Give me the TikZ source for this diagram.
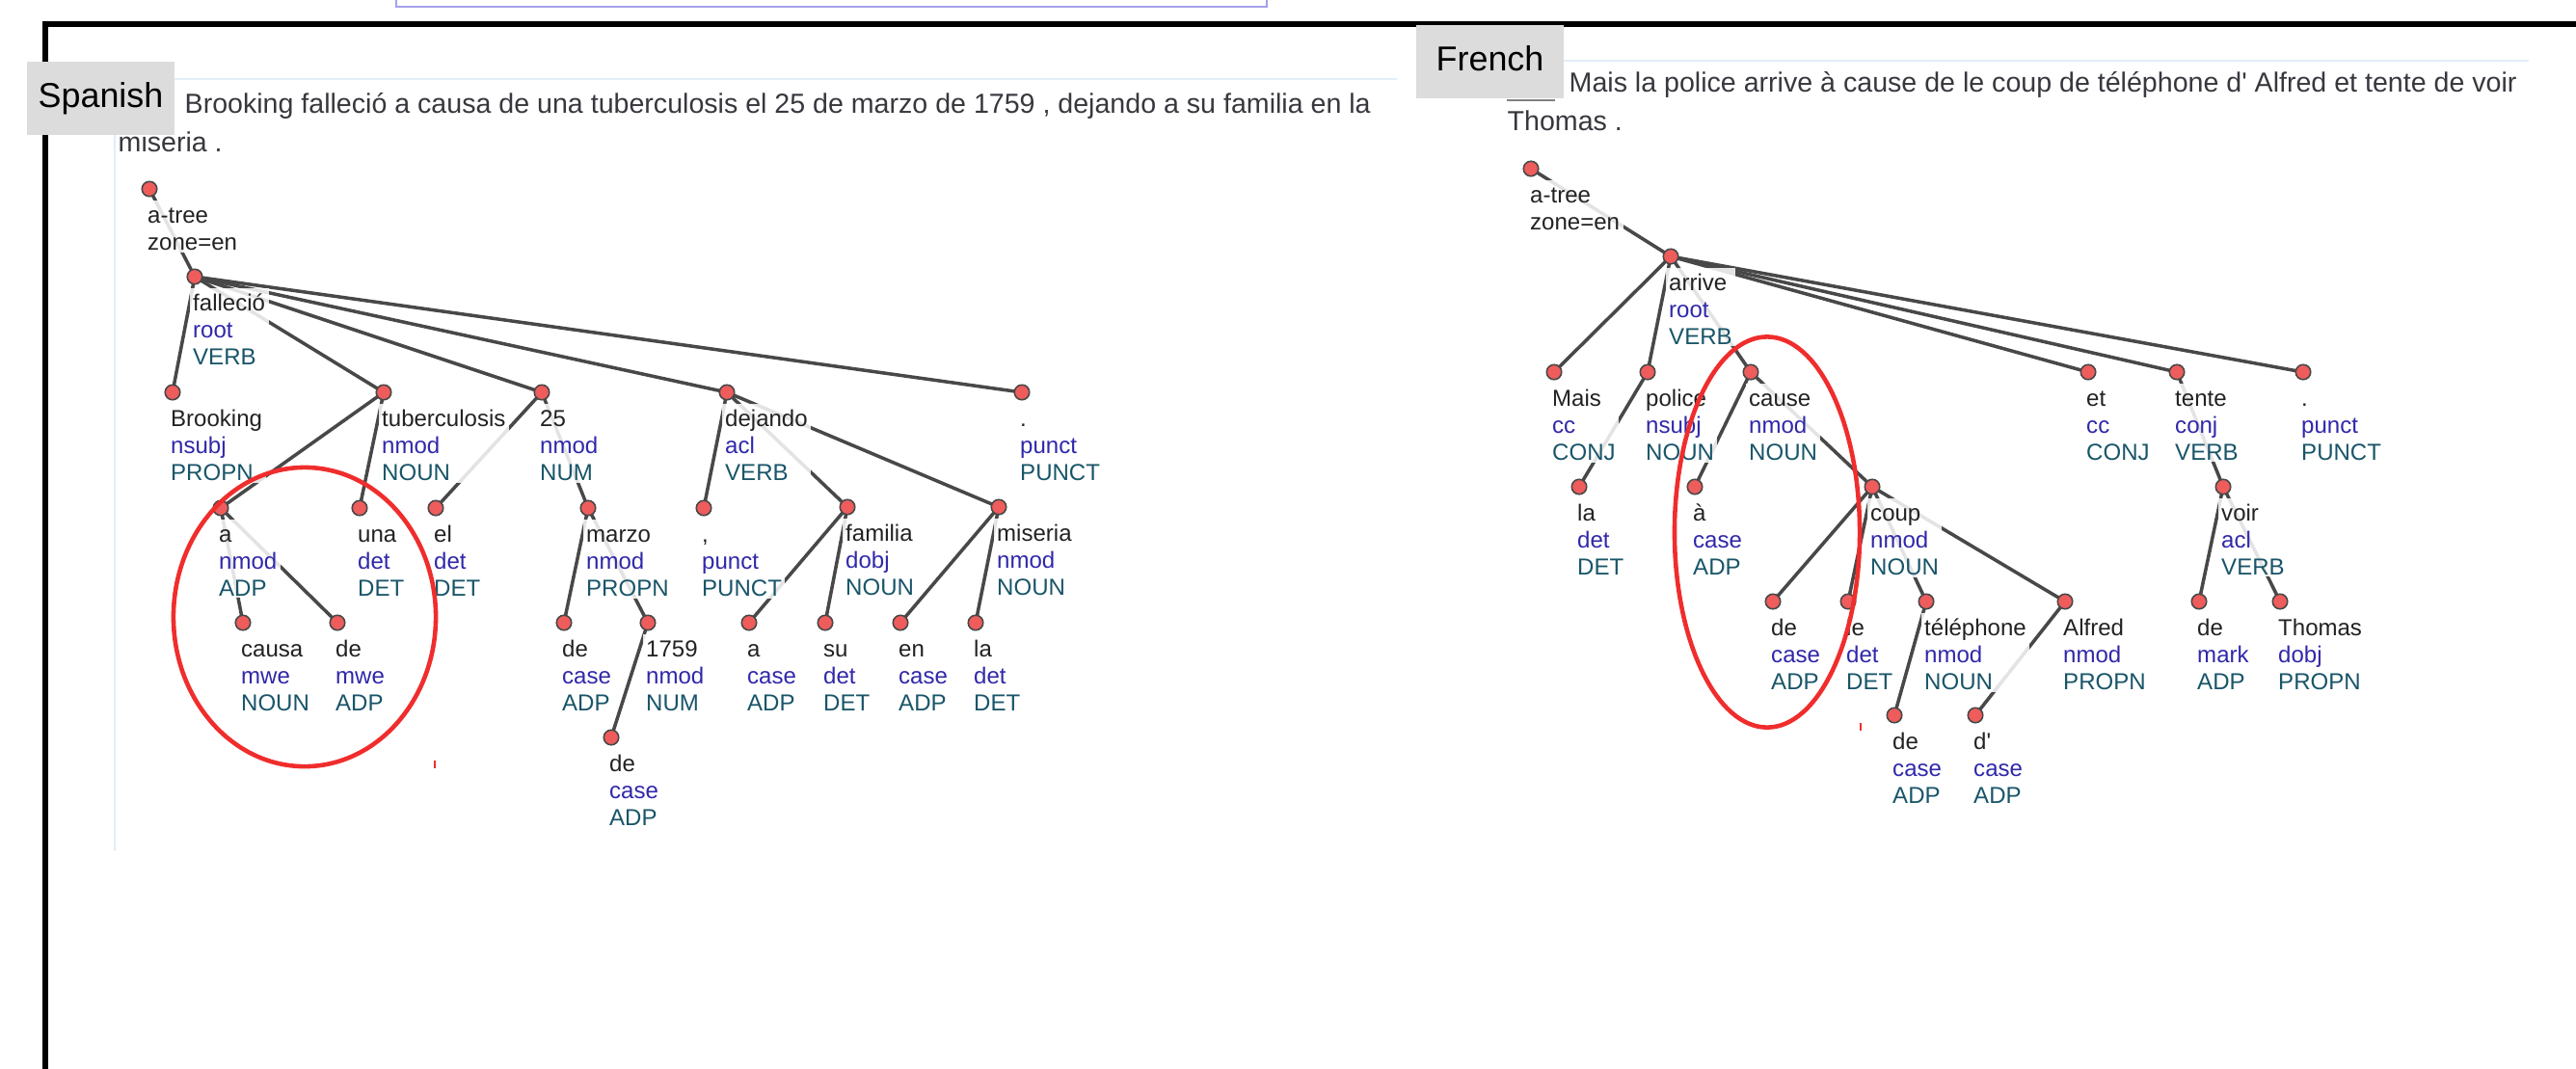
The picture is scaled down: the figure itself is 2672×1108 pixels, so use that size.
\documentclass[tikz,border=0pt]{standalone}
\usepackage{fontspec}
\setmainfont{Liberation Sans}
\usetikzlibrary{shapes.geometric}
\pgfdeclarelayer{edgelayer}
\pgfdeclarelayer{labellayer}
\pgfdeclarelayer{toplayer}
\pgfsetlayers{edgelayer,labellayer,main,toplayer}
\definecolor{wordc}{RGB}{34,34,34}
\definecolor{relc}{RGB}{48,40,170}
\definecolor{posc}{RGB}{25,85,105}
\definecolor{edgec}{RGB}{72,72,72}
\definecolor{dotc}{RGB}{238,92,92}
\definecolor{ringc}{RGB}{240,45,45}
\definecolor{sentc}{RGB}{55,55,62}
\definecolor{panelc}{RGB}{220,220,220}
\definecolor{faintc}{RGB}{226,238,248}
\definecolor{lavc}{RGB}{165,160,235}
\newcommand\tlab[3]{\rule{0pt}{6.3pt}\textcolor{wordc}{#1}\\\textcolor{relc}{#2}\\\textcolor{posc}{#3}}
\newcommand\rlab{\rule{0pt}{6.3pt}\textcolor{wordc}{a-tree}\\\textcolor{wordc}{zone=en}}
\tikzset{
  tdot/.style={circle, fill=dotc, draw=edgec, line width=0.45pt, minimum size=0.155cm, inner sep=0pt},
  lbl/.style={anchor=north west, align=left, inner xsep=1pt, inner ysep=0.5pt, fill=white, fill opacity=0.85, text opacity=1, font=\fontsize{6.83pt}{7.97pt}\selectfont},
  tedge/.style={draw=edgec, line width=1pt},
  sent/.style={anchor=base west, inner sep=0pt, text=sentc, font=\fontsize{8.13pt}{9.7pt}\selectfont},
  panel/.style={fill=panelc, inner sep=0pt, minimum width=1.53cm, minimum height=0.76cm, text height=7.4pt, text depth=2.1pt, font=\fontsize{10.2pt}{12pt}\selectfont},
  ring/.style={ellipse, draw=ringc, line width=1.3pt, inner sep=0pt},
  faint/.style={draw=faintc, line width=0.5pt}
}
\begin{document}
\begin{tikzpicture}[x=0.01cm, y=-0.01cm]
\useasboundingbox (0,0) rectangle (2672,1108);
\clip (0,0) rectangle (2672,1108);

% background elements
\draw[lavc, line width=0.45pt] (411,-10) -- (411,7) -- (1314,7) -- (1314,-10);
\draw[faint] (118,82) -- (1449,82);
\draw[faint] (119,140) -- (119,883);
\draw[faint] (1563,63) -- (2623,63);
\draw[black, line width=1.75pt] (47,1130) -- (47,25) -- (2700,25);
\draw[gray, line width=0.5pt] (1563,104) -- (1613,104);

% sentences
\node[sent] (ssent1) at (191,117) {Brooking falleció a causa de una tuberculosis el 25 de marzo de 1759 , dejando a su familia en la};
\node[sent] (ssent2) at (122,157) {miseria .};
\node[sent] (fsent1) at (1627,95) {Mais la police arrive à cause de le coup de téléphone d\textquotesingle{} Alfred et tente de voir};
\node[sent] (fsent2) at (1563,135) {Thomas .};

% panel labels
\node[panel] (spanish) at (104.5,102) {Spanish};
\node[panel] (french) at (1545.5,64) {French};

% ---------------- Spanish tree dots
\node[tdot] (sroot) at (155,196) {};
\node[tdot] (sfall) at (202,287) {};
\node[tdot] (sbrook) at (179,407) {};
\node[tdot] (stub) at (398,407) {};
\node[tdot] (s25) at (562,407) {};
\node[tdot] (sdej) at (754,407) {};
\node[tdot] (sdot) at (1060,407) {};
\node[tdot] (sa) at (229,527) {};
\node[tdot] (suna) at (373,527) {};
\node[tdot] (sel) at (452,527) {};
\node[tdot] (smarzo) at (610,527) {};
\node[tdot] (scomma) at (730,527) {};
\node[tdot] (sfam) at (879,526) {};
\node[tdot] (smis) at (1036,526) {};
\node[tdot] (scausa) at (252,646) {};
\node[tdot] (sdemwe) at (350,646) {};
\node[tdot] (sde1) at (585,646) {};
\node[tdot] (s1759) at (672,646) {};
\node[tdot] (sa2) at (777,646) {};
\node[tdot] (ssu) at (856,646) {};
\node[tdot] (sen) at (934,646) {};
\node[tdot] (sla) at (1012,646) {};
\node[tdot] (sde2) at (634,765) {};

% ---------------- French tree dots
\node[tdot] (froot) at (1588,175) {};
\node[tdot] (farr) at (1733,266) {};
\node[tdot] (fmais) at (1612,386) {};
\node[tdot] (fpol) at (1709,386) {};
\node[tdot] (fcause) at (1816,386) {};
\node[tdot] (fet) at (2166,386) {};
\node[tdot] (ftente) at (2258,386) {};
\node[tdot] (fdot) at (2389,386) {};
\node[tdot] (fla) at (1638,505) {};
\node[tdot] (fa) at (1758,505) {};
\node[tdot] (fcoup) at (1942,505) {};
\node[tdot] (fvoir) at (2306,505) {};
\node[tdot] (fde1) at (1839,624) {};
\node[tdot] (fle) at (1917,624) {};
\node[tdot] (ftel) at (1998,624) {};
\node[tdot] (falf) at (2142,624) {};
\node[tdot] (fde2) at (2281,624) {};
\node[tdot] (fthom) at (2365,624) {};
\node[tdot] (fde3) at (1965,742) {};
\node[tdot] (fd) at (2049,742) {};

% ---------------- edges
\begin{pgfonlayer}{edgelayer}
\draw[tedge] (sroot.center) -- (sfall.center);
\draw[tedge] (sfall.center) -- (sbrook.center);
\draw[tedge] (sfall.center) -- (stub.center);
\draw[tedge] (sfall.center) -- (s25.center);
\draw[tedge] (sfall.center) -- (sdej.center);
\draw[tedge] (sfall.center) -- (sdot.center);
\draw[tedge] (stub.center) -- (sa.center);
\draw[tedge] (stub.center) -- (suna.center);
\draw[tedge] (s25.center) -- (sel.center);
\draw[tedge] (s25.center) -- (smarzo.center);
\draw[tedge] (sa.center) -- (scausa.center);
\draw[tedge] (sa.center) -- (sdemwe.center);
\draw[tedge] (smarzo.center) -- (sde1.center);
\draw[tedge] (smarzo.center) -- (s1759.center);
\draw[tedge] (s1759.center) -- (sde2.center);
\draw[tedge] (sdej.center) -- (scomma.center);
\draw[tedge] (sdej.center) -- (sfam.center);
\draw[tedge] (sdej.center) -- (smis.center);
\draw[tedge] (sfam.center) -- (sa2.center);
\draw[tedge] (sfam.center) -- (ssu.center);
\draw[tedge] (smis.center) -- (sen.center);
\draw[tedge] (smis.center) -- (sla.center);
\draw[tedge] (froot.center) -- (farr.center);
\draw[tedge] (farr.center) -- (fmais.center);
\draw[tedge] (farr.center) -- (fpol.center);
\draw[tedge] (farr.center) -- (fcause.center);
\draw[tedge] (farr.center) -- (fet.center);
\draw[tedge] (farr.center) -- (ftente.center);
\draw[tedge] (farr.center) -- (fdot.center);
\draw[tedge] (fpol.center) -- (fla.center);
\draw[tedge] (fcause.center) -- (fa.center);
\draw[tedge] (fcause.center) -- (fcoup.center);
\draw[tedge] (fcoup.center) -- (fde1.center);
\draw[tedge] (fcoup.center) -- (fle.center);
\draw[tedge] (fcoup.center) -- (ftel.center);
\draw[tedge] (fcoup.center) -- (falf.center);
\draw[tedge] (ftel.center) -- (fde3.center);
\draw[tedge] (falf.center) -- (fd.center);
\draw[tedge] (ftente.center) -- (fvoir.center);
\draw[tedge] (fvoir.center) -- (fde2.center);
\draw[tedge] (fvoir.center) -- (fthom.center);
\end{pgfonlayer}

% ---------------- labels
\begin{pgfonlayer}{labellayer}
\node[lbl] (sroot-l) at ([shift={(-6,11)}]sroot.center) {\rlab};
\node[lbl] (sfall-l) at ([shift={(-6,11)}]sfall.center) {\tlab{falleció}{root}{VERB}};
\node[lbl] (sbrook-l) at ([shift={(-6,11)}]sbrook.center) {\tlab{Brooking}{nsubj}{PROPN}};
\node[lbl] (stub-l) at ([shift={(-6,11)}]stub.center) {\tlab{tuberculosis}{nmod}{NOUN}};
\node[lbl] (s25-l) at ([shift={(-6,11)}]s25.center) {\tlab{25}{nmod}{NUM}};
\node[lbl] (sdej-l) at ([shift={(-6,11)}]sdej.center) {\tlab{dejando}{acl}{VERB}};
\node[lbl] (sdot-l) at ([shift={(-6,11)}]sdot.center) {\tlab{.}{punct}{PUNCT}};
\node[lbl] (sa-l) at ([shift={(-6,11)}]sa.center) {\tlab{a}{nmod}{ADP}};
\node[lbl] (suna-l) at ([shift={(-6,11)}]suna.center) {\tlab{una}{det}{DET}};
\node[lbl] (sel-l) at ([shift={(-6,11)}]sel.center) {\tlab{el}{det}{DET}};
\node[lbl] (smarzo-l) at ([shift={(-6,11)}]smarzo.center) {\tlab{marzo}{nmod}{PROPN}};
\node[lbl] (scomma-l) at ([shift={(-6,11)}]scomma.center) {\tlab{,}{punct}{PUNCT}};
\node[lbl] (sfam-l) at ([shift={(-6,11)}]sfam.center) {\tlab{familia}{dobj}{NOUN}};
\node[lbl] (smis-l) at ([shift={(-6,11)}]smis.center) {\tlab{miseria}{nmod}{NOUN}};
\node[lbl] (scausa-l) at ([shift={(-6,11)}]scausa.center) {\tlab{causa}{mwe}{NOUN}};
\node[lbl] (sdemwe-l) at ([shift={(-6,11)}]sdemwe.center) {\tlab{de}{mwe}{ADP}};
\node[lbl] (sde1-l) at ([shift={(-6,11)}]sde1.center) {\tlab{de}{case}{ADP}};
\node[lbl] (s1759-l) at ([shift={(-6,11)}]s1759.center) {\tlab{1759}{nmod}{NUM}};
\node[lbl] (sa2-l) at ([shift={(-6,11)}]sa2.center) {\tlab{a}{case}{ADP}};
\node[lbl] (ssu-l) at ([shift={(-6,11)}]ssu.center) {\tlab{su}{det}{DET}};
\node[lbl] (sen-l) at ([shift={(-6,11)}]sen.center) {\tlab{en}{case}{ADP}};
\node[lbl] (sla-l) at ([shift={(-6,11)}]sla.center) {\tlab{la}{det}{DET}};
\node[lbl] (sde2-l) at ([shift={(-6,11)}]sde2.center) {\tlab{de}{case}{ADP}};
\node[lbl] (froot-l) at ([shift={(-5,11)}]froot.center) {\rlab};
\node[lbl] (farr-l) at ([shift={(-6,11)}]farr.center) {\tlab{arrive}{root}{VERB}};
\node[lbl] (fmais-l) at ([shift={(-6,11)}]fmais.center) {\tlab{Mais}{cc}{CONJ}};
\node[lbl] (fpol-l) at ([shift={(-6,11)}]fpol.center) {\tlab{police}{nsubj}{NOUN}};
\node[lbl] (fcause-l) at ([shift={(-6,11)}]fcause.center) {\tlab{cause}{nmod}{NOUN}};
\node[lbl] (fet-l) at ([shift={(-6,11)}]fet.center) {\tlab{et}{cc}{CONJ}};
\node[lbl] (ftente-l) at ([shift={(-6,11)}]ftente.center) {\tlab{tente}{conj}{VERB}};
\node[lbl] (fdot-l) at ([shift={(-6,11)}]fdot.center) {\tlab{.}{punct}{PUNCT}};
\node[lbl] (fla-l) at ([shift={(-6,11)}]fla.center) {\tlab{la}{det}{DET}};
\node[lbl] (fa-l) at ([shift={(-6,11)}]fa.center) {\tlab{à}{case}{ADP}};
\node[lbl] (fcoup-l) at ([shift={(-6,11)}]fcoup.center) {\tlab{coup}{nmod}{NOUN}};
\node[lbl] (fvoir-l) at ([shift={(-6,11)}]fvoir.center) {\tlab{voir}{acl}{VERB}};
\node[lbl] (fde1-l) at ([shift={(-6,11)}]fde1.center) {\tlab{de}{case}{ADP}};
\node[lbl] (fle-l) at ([shift={(-6,11)}]fle.center) {\tlab{le}{det}{DET}};
\node[lbl] (ftel-l) at ([shift={(-6,11)}]ftel.center) {\tlab{téléphone}{nmod}{NOUN}};
\node[lbl] (falf-l) at ([shift={(-6,11)}]falf.center) {\tlab{Alfred}{nmod}{PROPN}};
\node[lbl] (fde2-l) at ([shift={(-6,11)}]fde2.center) {\tlab{de}{mark}{ADP}};
\node[lbl] (fthom-l) at ([shift={(-6,11)}]fthom.center) {\tlab{Thomas}{dobj}{PROPN}};
\node[lbl] (fde3-l) at ([shift={(-6,11)}]fde3.center) {\tlab{de}{case}{ADP}};
\node[lbl] (fd-l) at ([shift={(-6,11)}]fd.center) {\tlab{d\textquotesingle}{case}{ADP}};
\end{pgfonlayer}

% ---------------- highlight rings
\begin{pgfonlayer}{toplayer}
\node[ring, minimum width=2.72cm, minimum height=3.10cm] (ringS) at (316,640) {};
\node[ring, minimum width=1.92cm, minimum height=4.05cm] (ringF) at (1833,552) {};
\draw[ringc, line width=0.5pt] (451,789) -- (451,797);
\draw[ringc, line width=0.5pt] (1930,750) -- (1930,758);
\end{pgfonlayer}
\end{tikzpicture}
\end{document}
